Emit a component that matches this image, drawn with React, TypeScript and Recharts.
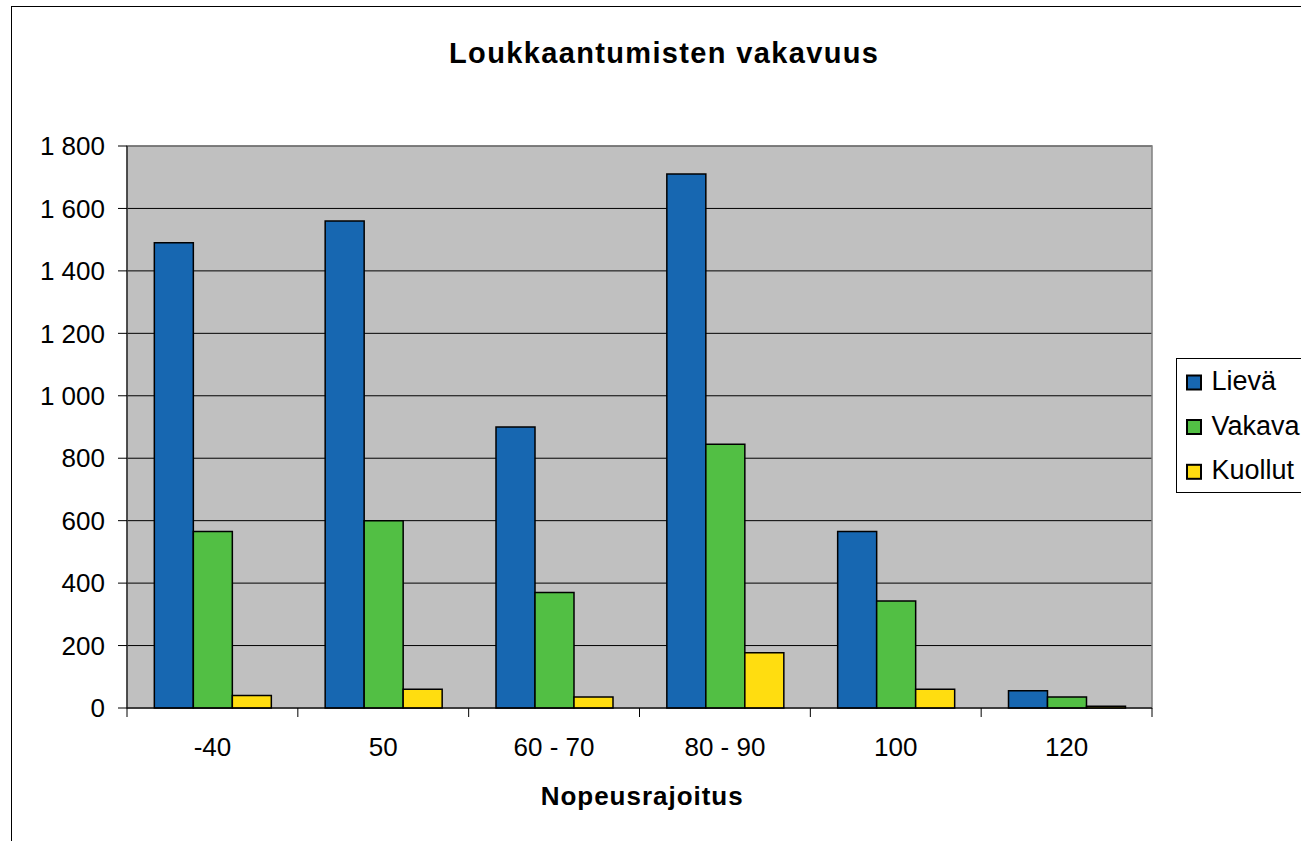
import React from 'react';
import {
  BarChart,
  Bar,
  XAxis,
  YAxis,
  CartesianGrid,
  Legend,
  ReferenceArea,
} from 'recharts';

const categories = ['-40', '50', '60 - 70', '80 - 90', '100', '120'];
const lieva = [1490, 1560, 900, 1710, 565, 55];
const vakava = [565, 600, 370, 845, 343, 35];
const kuollut = [40, 60, 35, 177, 60, 6];
const yTicks = [0, 200, 400, 600, 800, 1000, 1200, 1400, 1600, 1800];

const seriesNames = ['Lievä', 'Vakava', 'Kuollut'];
const seriesColors = ['#1767B1', '#52BF44', '#FFDD10'];

const data = categories.map((c, i) => ({
  cat: c,
  Lievä: lieva[i],
  Vakava: vakava[i],
  Kuollut: kuollut[i],
}));

const FONT = '"Liberation Sans", Arial, sans-serif';

const fmt = (v: number) => {
  const s = String(v);
  return s.length > 3 ? s.slice(0, s.length - 3) + ' ' + s.slice(s.length - 3) : s;
};

const XTick = (props: any) => {
  const { x, y, payload, index } = props;
  const half = payload && payload.offset ? payload.offset : 85.4;
  const last = index === categories.length - 1;
  return (
    <g>
      <line x1={x - half} x2={x - half} y1={y} y2={y + 9} stroke="#000" strokeWidth={1} />
      {last && <line x1={x + half} x2={x + half} y1={y} y2={y + 9} stroke="#000" strokeWidth={1} />}
      <text x={x} y={y + 48} textAnchor="middle" fontSize={26} fontFamily={FONT} fill="#000">
        {payload.value}
      </text>
    </g>
  );
};

const LegendBox = () => {
  const baselines = [32, 76.5, 121.3];
  return (
    <svg width={126} height={136} style={{ display: 'block' }}>
      <rect x={0.5} y={0.5} width={140} height={134} fill="#fff" stroke="#000" strokeWidth={1} />
      {seriesNames.map((n, i) => (
        <g key={n}>
          <rect
            x={11}
            y={baselines[i] - 14.5}
            width={14}
            height={14}
            fill={seriesColors[i]}
            stroke="#000"
            strokeWidth={2}
          />
          <text x={35.5} y={baselines[i]} fontSize={27} fontFamily={FONT} fill="#000">
            {n}
          </text>
        </g>
      ))}
    </svg>
  );
};

export default function App() {
  return (
    <div style={{ position: 'absolute', left: 0, top: 0, width: 1301, height: 841, background: '#fff', overflow: 'hidden' }}>
      <BarChart
        width={1301}
        height={841}
        data={data}
        margin={{ top: 146, right: 149, left: 47, bottom: 83 }}
        barCategoryGap="16%"
        barGap={0}
      >
        <CartesianGrid vertical={false} stroke="#000" strokeWidth={1} fill="#C0C0C0" fillOpacity={1} />
        <ReferenceArea
          x1="-40"
          x2="120"
          y1={0}
          y2={1800}
          fill="none"
          fillOpacity={0}
          stroke="#808080"
          strokeWidth={1.5}
          ifOverflow="visible"
        />
        <XAxis
          dataKey="cat"
          height={50}
          tickLine={false}
          tickSize={0}
          tickMargin={0}
          axisLine={{ stroke: '#000', strokeWidth: 1 }}
          tick={<XTick />}
          interval={0}
        />
        <YAxis
          width={80}
          domain={[0, 1800]}
          ticks={yTicks}
          interval={0}
          tickFormatter={fmt}
          tickSize={9}
          tickMargin={13}
          axisLine={{ stroke: '#000', strokeWidth: 1 }}
          tickLine={{ stroke: '#000', strokeWidth: 1 }}
          tick={{ fontSize: 26, fontFamily: FONT, fill: '#000' }}
        />
        <Legend
          layout="horizontal"
          align="center"
          verticalAlign="middle"
          content={<LegendBox />}
          wrapperStyle={{ position: 'absolute', left: 1176, top: 358, width: 126, height: 136 }}
        />
        {seriesNames.map((n, i) => (
          <Bar
            key={n}
            dataKey={n}
            fill={seriesColors[i]}
            stroke="#000"
            strokeWidth={1.5}
            isAnimationActive={false}
          />
        ))}
      </BarChart>
      <svg
        width={1301}
        height={841}
        style={{ position: 'absolute', left: 0, top: 0, pointerEvents: 'none' }}
      >
        <rect x={11.5} y={6.5} width={1400} height={900} fill="none" stroke="#000" strokeWidth={1} />
        <text
          x={663.5}
          y={63}
          textAnchor="middle"
          fontSize={29}
          fontWeight="bold"
          fontFamily={FONT}
          textLength={429}
          lengthAdjust="spacing"
          fill="#000"
        >
          Loukkaantumisten vakavuus
        </text>
        <text
          x={641.7}
          y={805}
          textAnchor="middle"
          fontSize={26}
          fontWeight="bold"
          fontFamily={FONT}
          textLength={202}
          lengthAdjust="spacing"
          fill="#000"
        >
          Nopeusrajoitus
        </text>
      </svg>
    </div>
  );
}
